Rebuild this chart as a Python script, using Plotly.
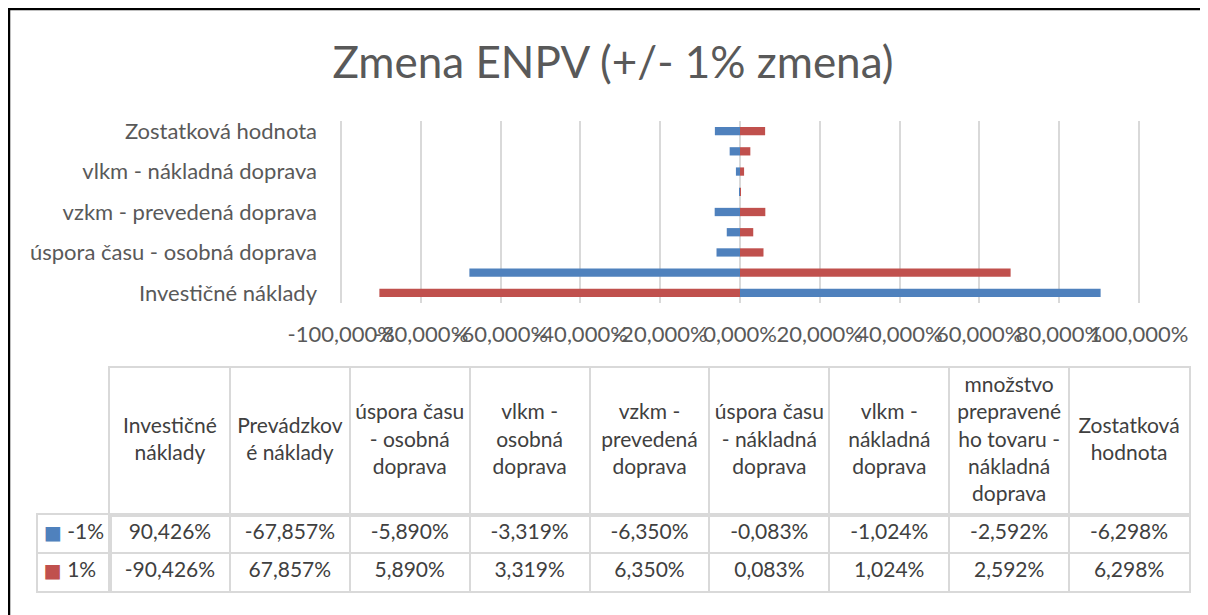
import plotly.graph_objects as go

# ---------------- data ----------------
categories = [
    "Investičné náklady",
    "Prevádzkové náklady",
    "úspora času - osobná doprava",
    "vlkm - osobná doprava",
    "vzkm - prevedená doprava",
    "úspora času - nákladná doprava",
    "vlkm - nákladná doprava",
    "množstvo prepraveného tovaru - nákladná doprava",
    "Zostatková hodnota",
]
header_labels = [
    "Investičné<br>náklady",
    "Prevádzkov<br>é náklady",
    "úspora času<br>- osobná<br>doprava",
    "vlkm -<br>osobná<br>doprava",
    "vzkm -<br>prevedená<br>doprava",
    "úspora času<br>- nákladná<br>doprava",
    "vlkm -<br>nákladná<br>doprava",
    "množstvo<br>prepravené<br>ho tovaru -<br>nákladná<br>doprava",
    "Zostatková<br>hodnota",
]
series_names = ["-1%", "1%"]
minus_1 = [90.426, -67.857, -5.890, -3.319, -6.350, -0.083, -1.024, -2.592, -6.298]
plus_1 = [-90.426, 67.857, 5.890, 3.319, 6.350, 0.083, 1.024, 2.592, 6.298]
x_ticks = [-100, -80, -60, -40, -20, 0, 20, 40, 60, 80, 100]
shown_y_labels = categories[::2]

BLUE = "#4f81bd"
RED = "#c0504d"
GRID = "#d9d9d9"
FONT = "Lato"
TXT = "#404040"
AXT = "#595959"

OFF = 8  # page body margin
W, H = 1208 - OFF, 615 - OFF


def px(x):
    return (x - OFF) / W


def py(y):
    return 1 - (y - OFF) / H


def fmt(v):
    return f"{v:.3f}".replace(".", ",") + "%"


x_ticktext = [f"{v:.3f}".replace(".", ",") + "%" for v in x_ticks]

fig = go.Figure()

# ---------------- main bar chart ----------------
fig.add_trace(go.Bar(y=categories, x=minus_1, name=series_names[0], orientation="h",
                     marker=dict(color=BLUE, line=dict(width=0)), xaxis="x", yaxis="y"))
fig.add_trace(go.Bar(y=categories, x=plus_1, name=series_names[1], orientation="h",
                     marker=dict(color=RED, line=dict(width=0)), xaxis="x", yaxis="y"))

# ---------------- data table ----------------
fig.add_trace(go.Scatter(x=categories, y=["h"] * len(categories), text=header_labels,
                         mode="text", textposition="middle center",
                         textfont=dict(family=FONT, size=21, color=TXT),
                         xaxis="x2", yaxis="y2", hoverinfo="skip"))
for name, vals in zip(series_names, [minus_1, plus_1]):
    fig.add_trace(go.Scatter(x=categories, y=[name] * len(categories),
                             text=[fmt(v) for v in vals], mode="text",
                             textposition="middle center",
                             textfont=dict(family=FONT, size=21, color=TXT),
                             xaxis="x3", yaxis="y3", hoverinfo="skip"))
SQ = "font-family:DejaVu Sans;font-size:19px"
legend_text = [
    f"<span style='color:{BLUE};{SQ}'>■</span>\u00a0{series_names[0]}",
    f"<span style='color:{RED};{SQ}'>■</span>\u00a0{series_names[1]}\u00a0\u2009",
]
fig.add_trace(go.Scatter(x=["k", "k"], y=series_names, text=legend_text, mode="text",
                         textposition="middle center",
                         textfont=dict(family=FONT, size=21, color=TXT),
                         xaxis="x4", yaxis="y3", hoverinfo="skip"))

tbl_axis = dict(showticklabels=False, ticks="", zeroline=False, fixedrange=True,
                automargin=False)

fig.update_layout(
    template="none",
    width=W, height=H,
    margin=dict(l=0, r=0, t=0, b=0, pad=0, autoexpand=False),
    paper_bgcolor="white", plot_bgcolor="white",
    showlegend=False,
    barmode="relative",
    bargap=0.59,
    font=dict(family=FONT, color=AXT),
    title=dict(text="Zmena ENPV (+/- 1% zmena)", x=px(613), xanchor="center",
               y=py(63), yanchor="middle", yref="container",
               font=dict(family=FONT, size=44, color=AXT)),
    xaxis=dict(domain=[px(340), px(1140)], range=[-100.3, 100.3], anchor="y",
               tickmode="array", tickvals=x_ticks, ticktext=x_ticktext, tickangle=0,
               showgrid=True, gridcolor=GRID, gridwidth=2,
               zeroline=True, zerolinecolor=GRID, zerolinewidth=2,
               showline=False, ticks="", ticklabelstandoff=16, automargin=False,
               tickfont=dict(family=FONT, size=22, color=AXT)),
    yaxis=dict(domain=[py(303), py(121)], type="category", anchor="x",
               categoryorder="array", categoryarray=categories,
               range=[-0.5, len(categories) - 0.5],
               tickmode="array", tickvals=shown_y_labels, ticktext=shown_y_labels,
               showgrid=False, zeroline=False, showline=False, ticks="",
               ticklabelstandoff=22, automargin=False,
               tickfont=dict(family=FONT, size=22, color=AXT)),
    xaxis2=dict(domain=[px(110), px(1189)], type="category", anchor="y2",
                categoryorder="array", categoryarray=categories,
                range=[-0.5, len(categories) - 0.5], tickson="boundaries",
                showgrid=True, gridcolor=GRID, gridwidth=2,
                showline=True, linecolor=GRID, linewidth=2, mirror=True, **tbl_axis),
    yaxis2=dict(domain=[py(515), py(368)], type="category", anchor="x2",
                range=[-0.5, 0.5], showgrid=False,
                showline=True, linecolor=GRID, linewidth=2, mirror=True, **tbl_axis),
    xaxis3=dict(domain=[px(110), px(1189)], type="category", anchor="y3",
                categoryorder="array", categoryarray=categories,
                range=[-0.5, len(categories) - 0.5], tickson="boundaries",
                showgrid=True, gridcolor=GRID, gridwidth=2,
                showline=True, linecolor=GRID, linewidth=2, mirror=True, **tbl_axis),
    yaxis3=dict(domain=[py(591), py(515)], type="category", anchor="x3",
                categoryorder="array", categoryarray=series_names[::-1],
                range=[-0.5, 1.5], tickson="boundaries",
                showgrid=True, gridcolor=GRID, gridwidth=2,
                showline=True, linecolor=GRID, linewidth=2, mirror="all", **tbl_axis),
    xaxis4=dict(domain=[px(38), px(110)], type="category", anchor="y3",
                range=[-0.5, 0.5], showgrid=False,
                showline=True, linecolor=GRID, linewidth=2, mirror=True, **tbl_axis),
)

# outer chart frame (only top and left edges are visible in the crop)
fig.add_shape(type="line", xref="paper", yref="paper", x0=px(8), x1=1.0, y0=py(9), y1=py(9),
              line=dict(color="black", width=2.5))
fig.add_shape(type="line", xref="paper", yref="paper", x0=px(9), x1=px(9), y0=py(9), y1=0,
              line=dict(color="black", width=2.5))

fig.write_html("out.html", config={"displayModeBar": False})
